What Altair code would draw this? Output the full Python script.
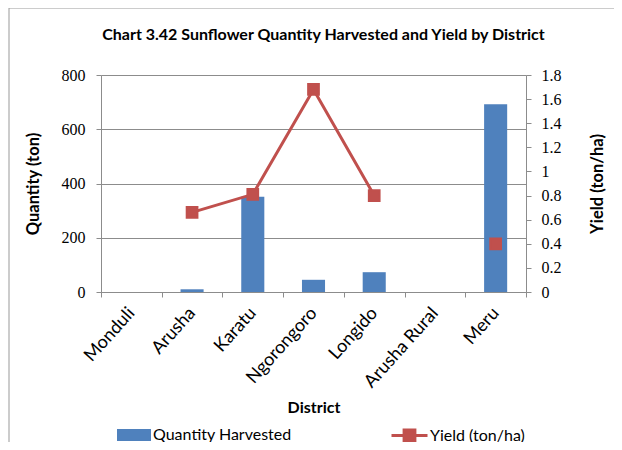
import altair as alt
import pandas as pd

districts = ["Monduli", "Arusha", "Karatu", "Ngorongoro", "Longido", "Arusha Rural", "Meru"]
quantity = [0, 10, 351, 45, 73, 0, 692]
yield_vals = [None, 0.66, 0.81, 1.68, 0.80, None, 0.40]
yield_ticks = [0, 0.2, 0.4, 0.6, 0.8, 1.0, 1.2, 1.4, 1.6, 1.8]

df = pd.DataFrame({
    "District": districts,
    "Quantity": quantity,
    "Yield": yield_vals,
    "qlab": ["Quantity Harvested"] * 7,
    "ylab": ["Yield (ton/ha)"] * 7,
})

BLUE = "#4F81BD"
RED = "#C0504D"
GRID = "#8C8C8C"
SANS = "Lato"
SERIF = "Liberation Serif"

x_enc = alt.X(
    "District:N", sort=districts, title="District",
    scale=alt.Scale(paddingInner=0, paddingOuter=0),
    axis=alt.Axis(labelAngle=-48, labelFont=SANS, labelFontSize=18, labelColor="#000",
                  titleFont=SANS, titleFontSize=16, titleFontWeight="bold", titleColor="#000",
                  tickBand="extent", domainColor=GRID, tickColor=GRID, tickSize=5,
                  titlePadding=9, labelPadding=13),
)

bars = alt.Chart(df).mark_bar(width=alt.RelativeBandSize(0.38)).encode(
    x=x_enc,
    y=alt.Y("Quantity:Q", title="Quantity (ton)",
            scale=alt.Scale(domain=[0, 800]),
            axis=alt.Axis(values=[0, 200, 400, 600, 800], grid=True, gridColor=GRID,
                          domainColor=GRID, tickColor=GRID, tickSize=5,
                          labelFont=SERIF, labelFontSize=16, labelColor="#000",
                          titleFont=SANS, titleFontSize=16.5, titleFontWeight="bold",
                          titleColor="#000", titlePadding=20, labelPadding=11)),
    color=alt.Color("qlab:N", scale=alt.Scale(range=[BLUE]),
                    legend=alt.Legend(title=None, orient="none", legendX=16, legendY=343,
                                      symbolType="M-1,-0.35H1V0.35H-1Z", symbolSize=1156,
                                      symbolStrokeWidth=0, labelFont=SANS, labelFontSize=16,
                                      labelColor="#000", labelOffset=2, padding=0)),
)

line = alt.Chart(df).mark_line(
    strokeWidth=3,
    point=alt.OverlayMarkDef(shape="square", size=115, filled=True, color=RED, opacity=1),
).encode(
    x=alt.X("District:N", sort=districts),
    y=alt.Y("Yield:Q", title="Yield (ton/ha)",
            scale=alt.Scale(domain=[0, 1.8]),
            axis=alt.Axis(orient="right", values=yield_ticks, format=".1~f", grid=False,
                          domainColor=GRID, tickColor=GRID, tickSize=5,
                          labelFont=SERIF, labelFontSize=16, labelColor="#000",
                          titleFont=SANS, titleFontSize=16.5, titleFontWeight="bold",
                          titleColor="#000", titleAngle=270, titlePadding=44,
                          labelPadding=10)),
    stroke=alt.Stroke("ylab:N", scale=alt.Scale(range=[RED]),
                      legend=alt.Legend(title=None, orient="none", legendX=289, legendY=341,
                                        symbolType="M-1,0H1M-0.3,-0.3H0.3V0.3H-0.3Z",
                                        symbolSize=1296, symbolStrokeWidth=3,
                                        symbolFillColor=RED,
                                        labelFont=SANS, labelFontSize=16, labelColor="#000",
                                        labelOffset=1, padding=0)),
)

frame = alt.Chart(alt.Data(values=[{"a": 1}])).mark_rect(
    fill=None, stroke="#999999", strokeWidth=1, clip=False
).encode(x=alt.value(-92), x2=alt.value(530), y=alt.value(-67), y2=alt.value(380))

chart = alt.layer(frame, bars, line).resolve_scale(y="independent").properties(
    width=425, height=217,
    autosize=alt.AutoSizeParams(type="none"),
    padding={"left": 93, "top": 67, "right": 88, "bottom": 150},
    title=alt.Title("Chart 3.42 Sunflower Quantity Harvested and Yield by District",
                    font=SANS, fontSize=16, fontWeight="bold", color="#000",
                    offset=-35, dx=10),
).configure_view(stroke=None).configure(background="white")

chart.save("out.html", embed_options={"renderer": "svg", "actions": False})
